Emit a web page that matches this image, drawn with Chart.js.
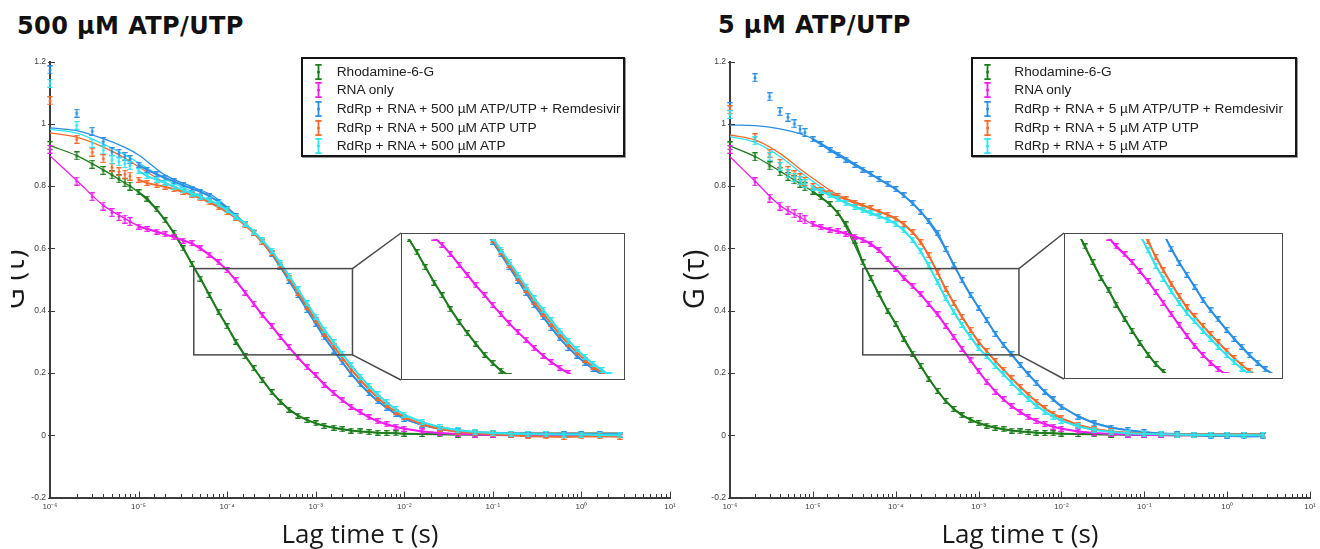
<!DOCTYPE html>
<html><head><meta charset="utf-8">
<script src="https://cdn.jsdelivr.net/npm/chart.js@4.4.1/dist/chart.umd.min.js"></script>
<style>
html,body{margin:0;padding:0;background:#fff;}
body{width:1320px;height:549px;position:relative;overflow:hidden;font-family:"Liberation Sans",Arial,sans-serif;}
.ptitle{position:absolute;font-family:"DejaVu Sans",sans-serif;font-weight:bold;font-size:24px;letter-spacing:0.4px;color:#111;white-space:nowrap;line-height:1;}
.cv{position:absolute;}
.inset{position:absolute;background:#fff;}
.inset canvas{position:absolute;left:0;top:0;}
.ibord{position:absolute;left:0;top:0;right:0;bottom:0;border:1.5px solid #4a4a4a;box-sizing:border-box;}
.legend{position:absolute;box-sizing:border-box;border:2px solid #151515;background:#fff;box-shadow:1px 1px 0 #999;}
.lrow{position:absolute;height:18px;line-height:18px;font-size:13.7px;color:#222;white-space:nowrap;}
.lico{position:absolute;}
</style></head><body>
<div class="ptitle" style="left:17px;top:13.7px">500 µM ATP/UTP</div>
<div class="ptitle" style="left:718px;top:13.2px">5 µM ATP/UTP</div>
<canvas id="mainL" class="cv" width="679" height="509" style="left:11px;top:40px"></canvas>
<canvas id="mainR" class="cv" width="640" height="509" style="left:680px;top:40px"></canvas>
<div class="inset" style="left:401px;top:233px;width:224px;height:147px"><canvas id="insetL" width="224" height="147"></canvas><div class="ibord"></div></div>
<div class="inset" style="left:1064px;top:233px;width:219px;height:146px"><canvas id="insetR" width="219" height="146"></canvas><div class="ibord"></div></div>
<div id="legL" class="legend" style="left:301px;top:57px;width:324px;height:100px"></div>
<div id="legR" class="legend" style="left:971px;top:57px;width:326px;height:100px"></div>
<script>
// ---------- data ----------
const lagTimes = [1e-6,2e-6,3e-6,4e-6,5e-6,6e-6,7e-6,8e-6,
  1e-5,1.25e-5,1.6e-5,2e-5,2.5e-5,3.2e-5,4e-5,5e-5,6.3e-5,8e-5,
  1e-4,1.25e-4,1.6e-4,2e-4,2.5e-4,3.2e-4,4e-4,5e-4,6.3e-4,8e-4,
  1e-3,1.25e-3,1.6e-3,2e-3,2.5e-3,3.2e-3,4e-3,5e-3,6.3e-3,8e-3,
  1e-2,1.6e-2,2.5e-2,4e-2,6.3e-2,0.1,0.16,0.25,0.4,0.63,1,1.6,2.7];
const fitLagTimes = [1e-6,2e-6,4e-6,7e-6,1e-5,2e-5,4e-5,7e-5,1e-4,2e-4,4e-4,7e-4,1e-3,2e-3,4e-3,7e-3,1e-2,2e-2,5e-2,0.1,0.3,1,2.7];
const xTickLabels = ['10⁻⁶','10⁻⁵','10⁻⁴','10⁻³','10⁻²','10⁻¹','10⁰','10¹'];
const yTicks = [-0.2,0,0.2,0.4,0.6,0.8,1,1.2];

const seriesLabels500 = ['Rhodamine-6-G','RNA only','RdRp + RNA + 500 µM ATP/UTP + Remdesivir','RdRp + RNA + 500 µM ATP UTP','RdRp + RNA + 500 µM ATP'];
const seriesLabels5 = ['Rhodamine-6-G','RNA only','RdRp + RNA + 5 µM ATP/UTP + Remdesivir','RdRp + RNA + 5 µM ATP UTP','RdRp + RNA + 5 µM ATP'];
const seriesColors = ['#1d7d1d','#f01ef0','#2b8fe5','#f36b2c','#2ee4f0'];

// 500 µM panel — measured points
const r6g500 = [0.930,0.897,0.870,0.850,0.836,0.823,0.811,0.800,
  0.780,0.760,0.725,0.690,0.650,0.600,0.550,0.503,0.450,0.395,
  0.350,0.300,0.254,0.215,0.178,0.138,0.108,0.082,0.063,0.049,
  0.038,0.030,0.024,0.019,0.015,0.012,0.010,0.008,0.007,0.006,
  0.005,0.004,0.003,0.002,0.002,0.001,0.001,0.001,0.000,0.001,0.000,0.001,0.000];
const rna500 = [0.918,0.816,0.766,0.736,0.715,0.702,0.694,0.686,
  0.670,0.662,0.654,0.645,0.636,0.625,0.616,0.600,0.580,0.555,
  0.530,0.497,0.458,0.422,0.385,0.350,0.315,0.283,0.250,0.218,
  0.192,0.162,0.135,0.112,0.092,0.073,0.057,0.045,0.035,0.027,
  0.021,0.012,0.007,0.004,0.002,0.001,0.000,0.001,0.000,0.000,0.001,0.000,0.000];
const remd500 = [1.173,1.034,0.976,0.943,0.910,0.905,0.895,0.885,
  0.868,0.852,0.838,0.826,0.815,0.802,0.792,0.782,0.768,0.750,
  0.727,0.703,0.677,0.650,0.620,0.582,0.540,0.496,0.450,0.402,
  0.358,0.314,0.272,0.234,0.198,0.163,0.135,0.110,0.088,0.068,
  0.053,0.033,0.020,0.012,0.008,0.006,0.005,0.005,0.004,0.004,0.003,0.003,0.002];
const atpUtp500 = [1.074,0.950,0.909,0.888,0.860,0.846,0.838,0.832,
  0.820,0.810,0.803,0.798,0.790,0.781,0.771,0.761,0.748,0.732,
  0.716,0.698,0.674,0.649,0.620,0.585,0.546,0.504,0.458,0.412,
  0.369,0.326,0.285,0.248,0.212,0.176,0.147,0.120,0.096,0.075,
  0.058,0.035,0.020,0.011,0.006,0.003,0.000,-0.003,-0.004,-0.006,-0.004,-0.003,-0.005];
const atp500 = [1.130,0.995,0.937,0.916,0.884,0.878,0.872,0.866,
  0.848,0.832,0.820,0.810,0.798,0.787,0.776,0.766,0.755,0.741,
  0.722,0.702,0.679,0.654,0.626,0.592,0.553,0.512,0.468,0.423,
  0.381,0.339,0.298,0.261,0.224,0.188,0.158,0.131,0.106,0.084,
  0.066,0.042,0.026,0.016,0.010,0.007,0.005,0.004,0.003,0.002,0.002,0.001,0.000];
// 500 µM panel — fitted curves
const r6gFit500 = [0.930,0.898,0.852,0.810,0.780,0.690,0.550,0.427,0.350,0.215,0.108,0.056,0.038,0.019,0.010,0.0065,0.005,0.003,0.002,0.001,0.001,0.001,0.001];
const rnaFit500 = [0.897,0.818,0.738,0.696,0.672,0.645,0.614,0.568,0.530,0.422,0.315,0.234,0.192,0.112,0.057,0.031,0.021,0.009,0.003,0.001,0.000,0.000,0.000];
const remdFit500 = [0.987,0.978,0.952,0.924,0.900,0.835,0.798,0.768,0.732,0.652,0.540,0.430,0.358,0.234,0.135,0.080,0.053,0.026,0.012,0.008,0.007,0.007,0.007];
const atpUtpFit500 = [0.971,0.957,0.925,0.890,0.862,0.810,0.773,0.746,0.721,0.649,0.546,0.440,0.369,0.248,0.147,0.086,0.058,0.028,0.012,0.009,0.008,0.008,0.008];
const atpFit500 = [0.982,0.970,0.935,0.900,0.875,0.822,0.782,0.745,0.722,0.654,0.553,0.448,0.381,0.261,0.158,0.095,0.066,0.034,0.014,0.009,0.007,0.007,0.007];

// 5 µM panel — measured points
const r6g5 = [0.929,0.894,0.865,0.846,0.831,0.820,0.809,0.798,
  0.782,0.764,0.742,0.714,0.677,0.625,0.555,0.505,0.452,0.400,
  0.358,0.310,0.262,0.222,0.182,0.142,0.110,0.084,0.064,0.050,
  0.039,0.031,0.024,0.019,0.015,0.012,0.010,0.008,0.007,0.006,
  0.005,0.004,0.003,0.002,0.002,0.001,0.001,0.000,0.001,0.000,0.000,0.001,0.000];
const rna5 = [0.918,0.814,0.761,0.736,0.723,0.711,0.700,0.692,
  0.677,0.668,0.660,0.655,0.647,0.638,0.628,0.615,0.595,0.565,
  0.535,0.505,0.478,0.452,0.422,0.388,0.352,0.316,0.278,0.240,
  0.205,0.172,0.140,0.115,0.093,0.074,0.058,0.046,0.036,0.027,
  0.021,0.012,0.007,0.004,0.002,0.001,0.000,0.001,0.000,0.000,0.001,0.000,0.000];
const remd5 = [1.055,1.148,1.087,1.039,1.021,1.000,0.983,0.972,
  0.950,0.935,0.915,0.900,0.885,0.868,0.853,0.838,0.822,0.806,
  0.790,0.770,0.745,0.718,0.688,0.650,0.598,0.548,0.498,0.450,
  0.410,0.370,0.325,0.290,0.260,0.225,0.195,0.168,0.140,0.115,
  0.092,0.060,0.038,0.024,0.016,0.010,0.005,0.003,0.000,-0.003,-0.002,-0.004,-0.003];
const atpUtp5 = [1.045,0.955,0.905,0.873,0.850,0.836,0.826,0.815,
  0.800,0.788,0.777,0.768,0.757,0.746,0.737,0.728,0.718,0.708,
  0.695,0.678,0.652,0.620,0.578,0.523,0.470,0.425,0.380,0.338,
  0.300,0.270,0.238,0.210,0.183,0.155,0.130,0.108,0.087,0.069,
  0.054,0.033,0.020,0.012,0.008,0.005,0.003,0.002,0.001,0.000,0.000,0.002,0.001];
const atp5 = [1.030,0.945,0.895,0.863,0.840,0.828,0.818,0.808,
  0.795,0.783,0.771,0.758,0.745,0.733,0.722,0.712,0.703,0.692,
  0.678,0.658,0.628,0.590,0.545,0.492,0.440,0.397,0.355,0.315,
  0.280,0.254,0.222,0.195,0.168,0.140,0.116,0.095,0.076,0.060,
  0.047,0.028,0.017,0.010,0.006,0.004,0.003,0.002,0.001,0.001,0.000,0.001,0.000];
// 5 µM panel — fitted curves
const r6gFit5 = [0.929,0.895,0.848,0.808,0.782,0.714,0.555,0.427,0.358,0.222,0.110,0.058,0.039,0.019,0.010,0.0065,0.005,0.003,0.002,0.001,0.001,0.001,0.001];
const rnaFit5 = [0.894,0.816,0.738,0.700,0.678,0.655,0.628,0.580,0.535,0.452,0.352,0.262,0.205,0.115,0.058,0.031,0.021,0.009,0.003,0.001,0.000,0.000,0.000];
const remdFit5 = [0.996,0.994,0.984,0.968,0.952,0.905,0.856,0.815,0.790,0.718,0.598,0.475,0.410,0.290,0.195,0.126,0.092,0.050,0.020,0.010,0.005,0.004,0.004];
const atpUtpFit5 = [0.964,0.948,0.905,0.855,0.825,0.772,0.740,0.713,0.697,0.620,0.470,0.360,0.300,0.210,0.130,0.077,0.054,0.026,0.010,0.006,0.004,0.004,0.004];
const atpFit5 = [0.959,0.940,0.895,0.845,0.815,0.760,0.726,0.700,0.680,0.590,0.440,0.335,0.280,0.195,0.116,0.068,0.047,0.022,0.008,0.005,0.003,0.003,0.003];

// zoom windows (data space): [xMin, xMax, yMin, yMax]
const zoomRect500 = [4.2e-5, 2.6e-3, 0.258, 0.535];
const zoomRect5 = [4.0e-5, 3.07e-3, 0.258, 0.535];
const insetRange500 = [3.8e-5, 1.28e-2, 0.07, 0.55];
const insetRange5 = [3.22e-5, 1.41e-2, 0.08, 0.53];

// ---------- helpers ----------
const isPow10 = v => Math.abs(Math.log10(v) - Math.round(Math.log10(v))) < 1e-6;

function glyph(color, w, h, lw, dotR) {
  const c = document.createElement('canvas'); c.width = w; c.height = h;
  const g = c.getContext('2d');
  g.strokeStyle = color; g.fillStyle = color; g.lineWidth = lw;
  const cx = w / 2;
  g.beginPath();
  g.moveTo(cx, lw / 2); g.lineTo(cx, h - lw / 2);
  g.moveTo(0.3, lw / 2); g.lineTo(w - 0.3, lw / 2);
  g.moveTo(0.3, h - lw / 2); g.lineTo(w - 0.3, h - lw / 2);
  g.stroke();
  g.beginPath(); g.arc(cx, h / 2, dotR, 0, Math.PI * 2); g.fill();
  return c;
}

function buildDatasets(dataSeries, fitSeries, labels, inset) {
  const order = [4, 3, 2, 1, 0];
  const ds = [];
  order.forEach(i => {
    const col = seriesColors[i];
    const big = glyph(col, 6, 9, 1.3, 1.5);
    const small = glyph(col, 6, 6, 1.3, 1.4);
    ds.push({
      label: labels[i],
      data: lagTimes.map((t, j) => ({x: t, y: dataSeries[i][j]})),
      showLine: true, borderColor: col, backgroundColor: col, borderWidth: 2,
      pointStyle: c => (c.dataIndex < 8 ? big : small), pointRadius: 2,
      segment: {borderColor: c => (c.p0DataIndex < 8 ? 'rgba(0,0,0,0)' : col)},
      clip: inset ? 0 : false
    });
  });
  order.forEach(i => {
    const col = seriesColors[i];
    ds.push({
      label: labels[i] + ' fit',
      data: fitLagTimes.map((t, j) => ({x: t, y: fitSeries[i][j]})),
      showLine: true, borderColor: col, borderWidth: 1.3, pointRadius: 0,
      cubicInterpolationMode: 'monotone',
      clip: inset ? 0 : false
    });
  });
  return ds;
}

const tickPlugin = {
  id: 'inTicks',
  afterDraw(chart) {
    const {ctx, chartArea: a} = chart; const x = chart.scales.x, y = chart.scales.y;
    ctx.save(); ctx.strokeStyle = '#3c3c3c'; ctx.lineWidth = 1;
    x.ticks.forEach(t => {
      const px = Math.round(x.getPixelForValue(t.value)) + 0.5;
      ctx.beginPath(); ctx.moveTo(px, a.bottom); ctx.lineTo(px, a.bottom - (isPow10(t.value) ? 6 : 3.5)); ctx.stroke();
    });
    y.ticks.forEach(t => {
      const py = Math.round(y.getPixelForValue(t.value)) + 0.5;
      ctx.beginPath(); ctx.moveTo(a.left - 2, py); ctx.lineTo(a.left + 5, py); ctx.stroke();
    });
    ctx.restore();
  }
};

function zoomPlugin(rect, box) {
  return {
    id: 'zoomBox',
    afterDatasetsDraw(chart) {
      const {ctx} = chart; const x = chart.scales.x, y = chart.scales.y;
      const l = x.getPixelForValue(rect[0]), r = x.getPixelForValue(rect[1]);
      const t = y.getPixelForValue(rect[3]), b = y.getPixelForValue(rect[2]);
      ctx.save(); ctx.strokeStyle = '#4a4a4a'; ctx.lineWidth = 1.5;
      ctx.strokeRect(l, t, r - l, b - t);
      ctx.beginPath();
      ctx.moveTo(r, t); ctx.lineTo(box[0], box[1]);
      ctx.moveTo(r, b); ctx.lineTo(box[0], box[3]);
      ctx.stroke(); ctx.restore();
    }
  };
}

function mainChart(id, dataSeries, fitSeries, labels, cfg) {
  return new Chart(document.getElementById(id), {
    type: 'scatter',
    data: {datasets: buildDatasets(dataSeries, fitSeries, labels, false)},
    options: {
      responsive: false, animation: false, events: [],
      layout: {padding: {left: 0, top: 21.5, right: cfg.padRight, bottom: 0}},
      plugins: {legend: {display: false}, tooltip: {enabled: false}},
      scales: {
        x: {
          type: 'logarithmic', position: 'bottom', min: 1e-6, max: 10,
          grid: {display: false, drawTicks: false},
          border: {display: true, color: '#3c3c3c', width: 2},
          ticks: {autoSkip: false, maxRotation: 0, minRotation: 0, padding: 4, color: '#444',
            font: {family: 'Liberation Sans', size: 8},
            callback: v => (isPow10(v) ? xTickLabels[Math.round(Math.log10(v)) + 6] : '')},
          title: {display: true, text: 'Lag time τ (s)', color: '#1a1a1a',
            font: {family: 'Open Sans', size: 26, lineHeight: 1}, padding: 0},
          afterFit: s => { s.height = 51.5; }
        },
        y: {
          type: 'linear', position: 'left', min: yTicks[0], max: yTicks[yTicks.length - 1],
          grid: {display: false, drawTicks: false},
          border: {display: true, color: '#3c3c3c', width: 2},
          afterBuildTicks: s => { s.ticks = yTicks.map(v => ({value: v})); },
          ticks: {padding: 4, color: '#444', font: {family: 'Liberation Sans', size: 8.5},
            callback: v => String(Math.round(v * 10) / 10)},
          title: {display: true, text: 'G (τ)', color: '#1a1a1a',
            font: {family: 'Open Sans', size: 29, lineHeight: cfg.yTitleLH}, padding: 0},
          afterFit: s => { s.width = cfg.yWidth; }
        }
      }
    },
    plugins: [tickPlugin, zoomPlugin(cfg.rect, cfg.box)]
  });
}

function insetChart(id, dataSeries, fitSeries, labels, range) {
  return new Chart(document.getElementById(id), {
    type: 'scatter',
    data: {datasets: buildDatasets(dataSeries, fitSeries, labels, true)},
    options: {
      responsive: false, animation: false, events: [],
      layout: {padding: 0},
      plugins: {legend: {display: false}, tooltip: {enabled: false}},
      scales: {
        x: {type: 'logarithmic', display: false, min: range[0], max: range[1]},
        y: {type: 'linear', display: false, min: range[2], max: range[3]}
      }
    }
  });
}

function buildLegend(id, labels, iconX, textX) {
  const box = document.getElementById(id);
  labels.forEach((lab, i) => {
    const cy = 12.7 + i * 18.6;
    const ic = glyph(seriesColors[i], 7, 16, 1.8, 1.5);
    ic.className = 'lico';
    ic.style.left = (iconX - 3.5) + 'px'; ic.style.top = (cy - 8) + 'px';
    box.appendChild(ic);
    const row = document.createElement('div');
    row.className = 'lrow'; row.textContent = lab;
    row.style.left = textX + 'px'; row.style.top = (cy - 9) + 'px';
    box.appendChild(row);
  });
}

const data500 = [r6g500, rna500, remd500, atpUtp500, atp500];
const fit500 = [r6gFit500, rnaFit500, remdFit500, atpUtpFit500, atpFit500];
const data5 = [r6g5, rna5, remd5, atpUtp5, atp5];
const fit5 = [r6gFit5, rnaFit5, remdFit5, atpUtpFit5, atpFit5];

// inset boxes in canvas coords (main canvases at page x 11 and 680, y 40)
mainChart('mainL', data500, fit500, seriesLabels500,
  {padRight: 20, yWidth: 39, yTitleLH: 0.324, rect: zoomRect500, box: [401 - 11, 233 - 40, 625 - 11, 380 - 40]});
mainChart('mainR', data5, fit5, seriesLabels5,
  {padRight: 10, yWidth: 50, yTitleLH: 1.076, rect: zoomRect5, box: [1064 - 680, 233 - 40, 1283 - 680, 379 - 40]});
insetChart('insetL', data500, fit500, seriesLabels500, insetRange500);
insetChart('insetR', data5, fit5, seriesLabels5, insetRange5);
buildLegend('legL', seriesLabels500, 15.3, 33.7);
buildLegend('legR', seriesLabels5, 14.6, 41.3);
</script>
</body></html>
